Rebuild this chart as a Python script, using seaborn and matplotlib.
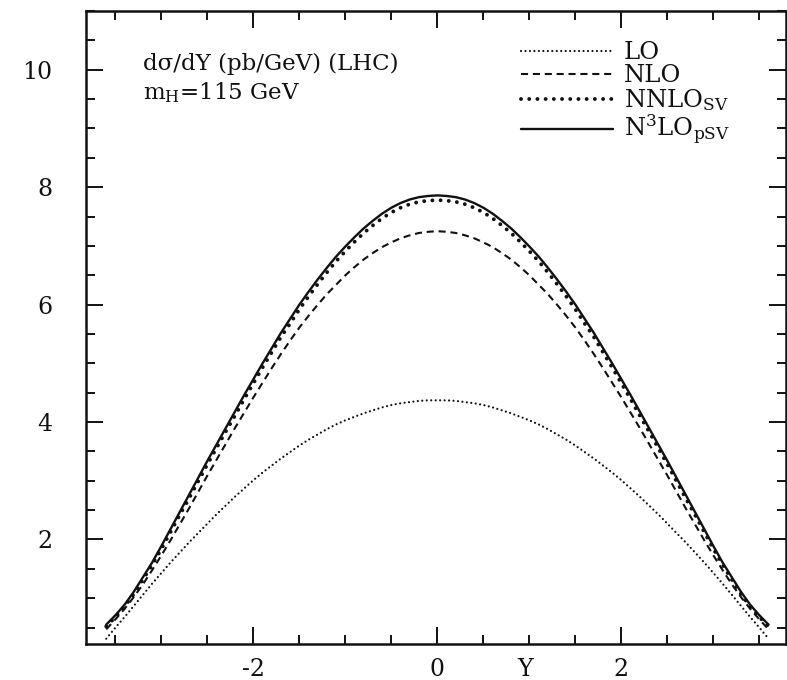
import numpy as np
import pandas as pd
import seaborn as sns
import matplotlib
matplotlib.use("Agg")
import matplotlib.pyplot as plt
from matplotlib.ticker import MultipleLocator, FixedLocator
import matplotlib.transforms as mtransforms

# Higgs rapidity distribution dsigma/dY at the LHC, m_H = 115 GeV
rapidity = [-3.6, -3.5, -3.4, -3.3, -3.2, -3.1, -3.0, -2.9, -2.8, -2.7, -2.6, -2.5,
            -2.4, -2.3, -2.2, -2.1, -2.0, -1.9, -1.8, -1.7, -1.6, -1.5, -1.4, -1.3,
            -1.2, -1.1, -1.0, -0.9, -0.8, -0.7, -0.6, -0.5, -0.4, -0.3, -0.2, -0.1,
            0.0,
            0.1, 0.2, 0.3, 0.4, 0.5, 0.6, 0.7, 0.8, 0.9, 1.0, 1.1, 1.2,
            1.3, 1.4, 1.5, 1.6, 1.7, 1.8, 1.9, 2.0, 2.1, 2.2, 2.3, 2.4,
            2.5, 2.6, 2.7, 2.8, 2.9, 3.0, 3.1, 3.2, 3.3, 3.4, 3.5, 3.6]

lo = [0.31, 0.50, 0.68, 0.87, 1.06, 1.25, 1.43, 1.61, 1.78, 1.95, 2.11, 2.27,
      2.43, 2.58, 2.73, 2.87, 3.01, 3.14, 3.26, 3.38, 3.49, 3.60, 3.70, 3.79,
      3.88, 3.96, 4.03, 4.09, 4.15, 4.20, 4.25, 4.29, 4.32, 4.34, 4.36, 4.37,
      4.37,
      4.37, 4.36, 4.34, 4.32, 4.29, 4.25, 4.20, 4.15, 4.09, 4.03, 3.96, 3.88,
      3.79, 3.70, 3.60, 3.49, 3.38, 3.26, 3.14, 3.01, 2.87, 2.73, 2.58, 2.43,
      2.27, 2.11, 1.95, 1.78, 1.61, 1.43, 1.25, 1.06, 0.87, 0.68, 0.50, 0.31]

nlo = [0.47, 0.64, 0.82, 1.02, 1.24, 1.48, 1.73, 1.99, 2.26, 2.53, 2.81, 3.09,
       3.36, 3.63, 3.90, 4.16, 4.42, 4.67, 4.92, 5.16, 5.39, 5.61, 5.81, 6.00,
       6.18, 6.34, 6.50, 6.64, 6.77, 6.88, 6.98, 7.06, 7.13, 7.18, 7.22, 7.24,
       7.25,
       7.24, 7.22, 7.18, 7.13, 7.06, 6.98, 6.88, 6.77, 6.64, 6.50, 6.34, 6.18,
       6.00, 5.81, 5.61, 5.39, 5.16, 4.92, 4.67, 4.42, 4.16, 3.90, 3.63, 3.36,
       3.09, 2.81, 2.53, 2.26, 1.99, 1.73, 1.48, 1.24, 1.02, 0.82, 0.64, 0.47]

nnlo_sv = [0.52, 0.68, 0.86, 1.07, 1.32, 1.57, 1.84, 2.13, 2.42, 2.70, 2.99, 3.28,
           3.56, 3.84, 4.11, 4.39, 4.66, 4.93, 5.19, 5.45, 5.68, 5.92, 6.14, 6.35,
           6.55, 6.74, 6.91, 7.07, 7.22, 7.35, 7.47, 7.57, 7.65, 7.71, 7.75, 7.77,
           7.78,
           7.77, 7.75, 7.71, 7.65, 7.57, 7.47, 7.35, 7.22, 7.07, 6.91, 6.74, 6.55,
           6.35, 6.14, 5.92, 5.68, 5.45, 5.19, 4.93, 4.66, 4.39, 4.11, 3.84, 3.56,
           3.28, 2.99, 2.70, 2.42, 2.13, 1.84, 1.57, 1.32, 1.07, 0.86, 0.68, 0.52]

n3lo_psv = [0.55, 0.71, 0.89, 1.11, 1.36, 1.61, 1.89, 2.18, 2.47, 2.76, 3.05, 3.34,
            3.62, 3.90, 4.18, 4.46, 4.73, 5.00, 5.26, 5.52, 5.76, 6.00, 6.22, 6.43,
            6.63, 6.82, 6.99, 7.15, 7.30, 7.43, 7.55, 7.65, 7.73, 7.79, 7.83, 7.85,
            7.86,
            7.85, 7.83, 7.79, 7.73, 7.65, 7.55, 7.43, 7.30, 7.15, 6.99, 6.82, 6.63,
            6.43, 6.22, 6.00, 5.76, 5.52, 5.26, 5.00, 4.73, 4.46, 4.18, 3.90, 3.62,
            3.34, 3.05, 2.76, 2.47, 2.18, 1.89, 1.61, 1.36, 1.11, 0.89, 0.71, 0.55]

labels = ["LO", "NLO", r"NNLO$_{\rm SV}$", r"N$^{3}$LO$_{\rm pSV}$"]
x_ticks = [-2, 0, 2]
y_ticks = [2, 4, 6, 8, 10]

sns.set_theme(style="ticks")
plt.rcParams["font.family"] = ["DejaVu Serif"]
plt.rcParams["mathtext.fontset"] = "dejavuserif"

df = pd.DataFrame({"Y": rapidity, "LO": lo, "NLO": nlo,
                   "NNLO": nnlo_sv, "N3LO": n3lo_psv})

fig = plt.figure(figsize=(7.87, 6.80), dpi=100)
ax = fig.add_axes([86 / 787, 36 / 680, 700 / 787, 633 / 680])

ink = "#111111"
styles = [
    dict(col="LO", lw=1.6, ls=(0, (0.01, 2.0)), cap="round"),
    dict(col="NLO", lw=1.5, ls=(0, (3.4, 2.3)), cap="butt"),
    dict(col="NNLO", lw=2.8, ls=(0, (0.01, 2.1)), cap="round"),
    dict(col="N3LO", lw=1.7, ls="-", cap="butt"),
]
for st, lab in zip(styles, labels):
    sns.lineplot(data=df, x="Y", y=st["col"], ax=ax, color=ink, lw=st["lw"],
                 linestyle=st["ls"], dash_capstyle=st["cap"], label=lab)

ax.set_xlim(-3.82, 3.79)
ax.set_ylim(0.22, 11.0)
ax.xaxis.set_major_locator(FixedLocator(x_ticks))
ax.yaxis.set_major_locator(FixedLocator(y_ticks))
ax.xaxis.set_minor_locator(MultipleLocator(0.5))
ax.yaxis.set_minor_locator(MultipleLocator(0.5))
ax.set_xticklabels([str(t) for t in x_ticks])
ax.set_yticklabels([str(t) for t in y_ticks])
ax.set_xlabel("")
ax.set_ylabel("")

ax.tick_params(which="both", direction="in", top=True, right=True,
               colors=ink, width=1.4, labelsize=17)
ax.tick_params(which="major", length=12)
ax.tick_params(which="minor", length=6.5)
ax.tick_params(axis="y", which="major", pad=24)
ax.tick_params(axis="x", which="major", pad=10)
for sp in ax.spines.values():
    sp.set_linewidth(1.8)
    sp.set_color(ink)
    sp.set_visible(True)

# axis variable name sits in the row of x tick labels
trans = mtransforms.blended_transform_factory(ax.transData, ax.transAxes)
ax.text(0.95, -0.0215, "Y", transform=trans, ha="center", va="top",
        fontsize=17, color=ink)

ax.text(0.081, 0.907, "dσ/dY (pb/GeV) (LHC)", transform=ax.transAxes,
        fontsize=16.5, color=ink, va="baseline", ha="left")
ax.text(0.081, 0.861, r"m$_{\rm H}$=115 GeV", transform=ax.transAxes,
        fontsize=16.5, color=ink, va="baseline", ha="left")

leg = ax.legend(loc="upper left", bbox_to_anchor=(0.621, 0.952), frameon=False,
                fontsize=17.5, handlelength=3.8, handletextpad=0.45,
                labelspacing=0.0, borderpad=0, borderaxespad=0)
for t in leg.get_texts():
    t.set_color(ink)

fig.savefig("out.png", dpi=100)
